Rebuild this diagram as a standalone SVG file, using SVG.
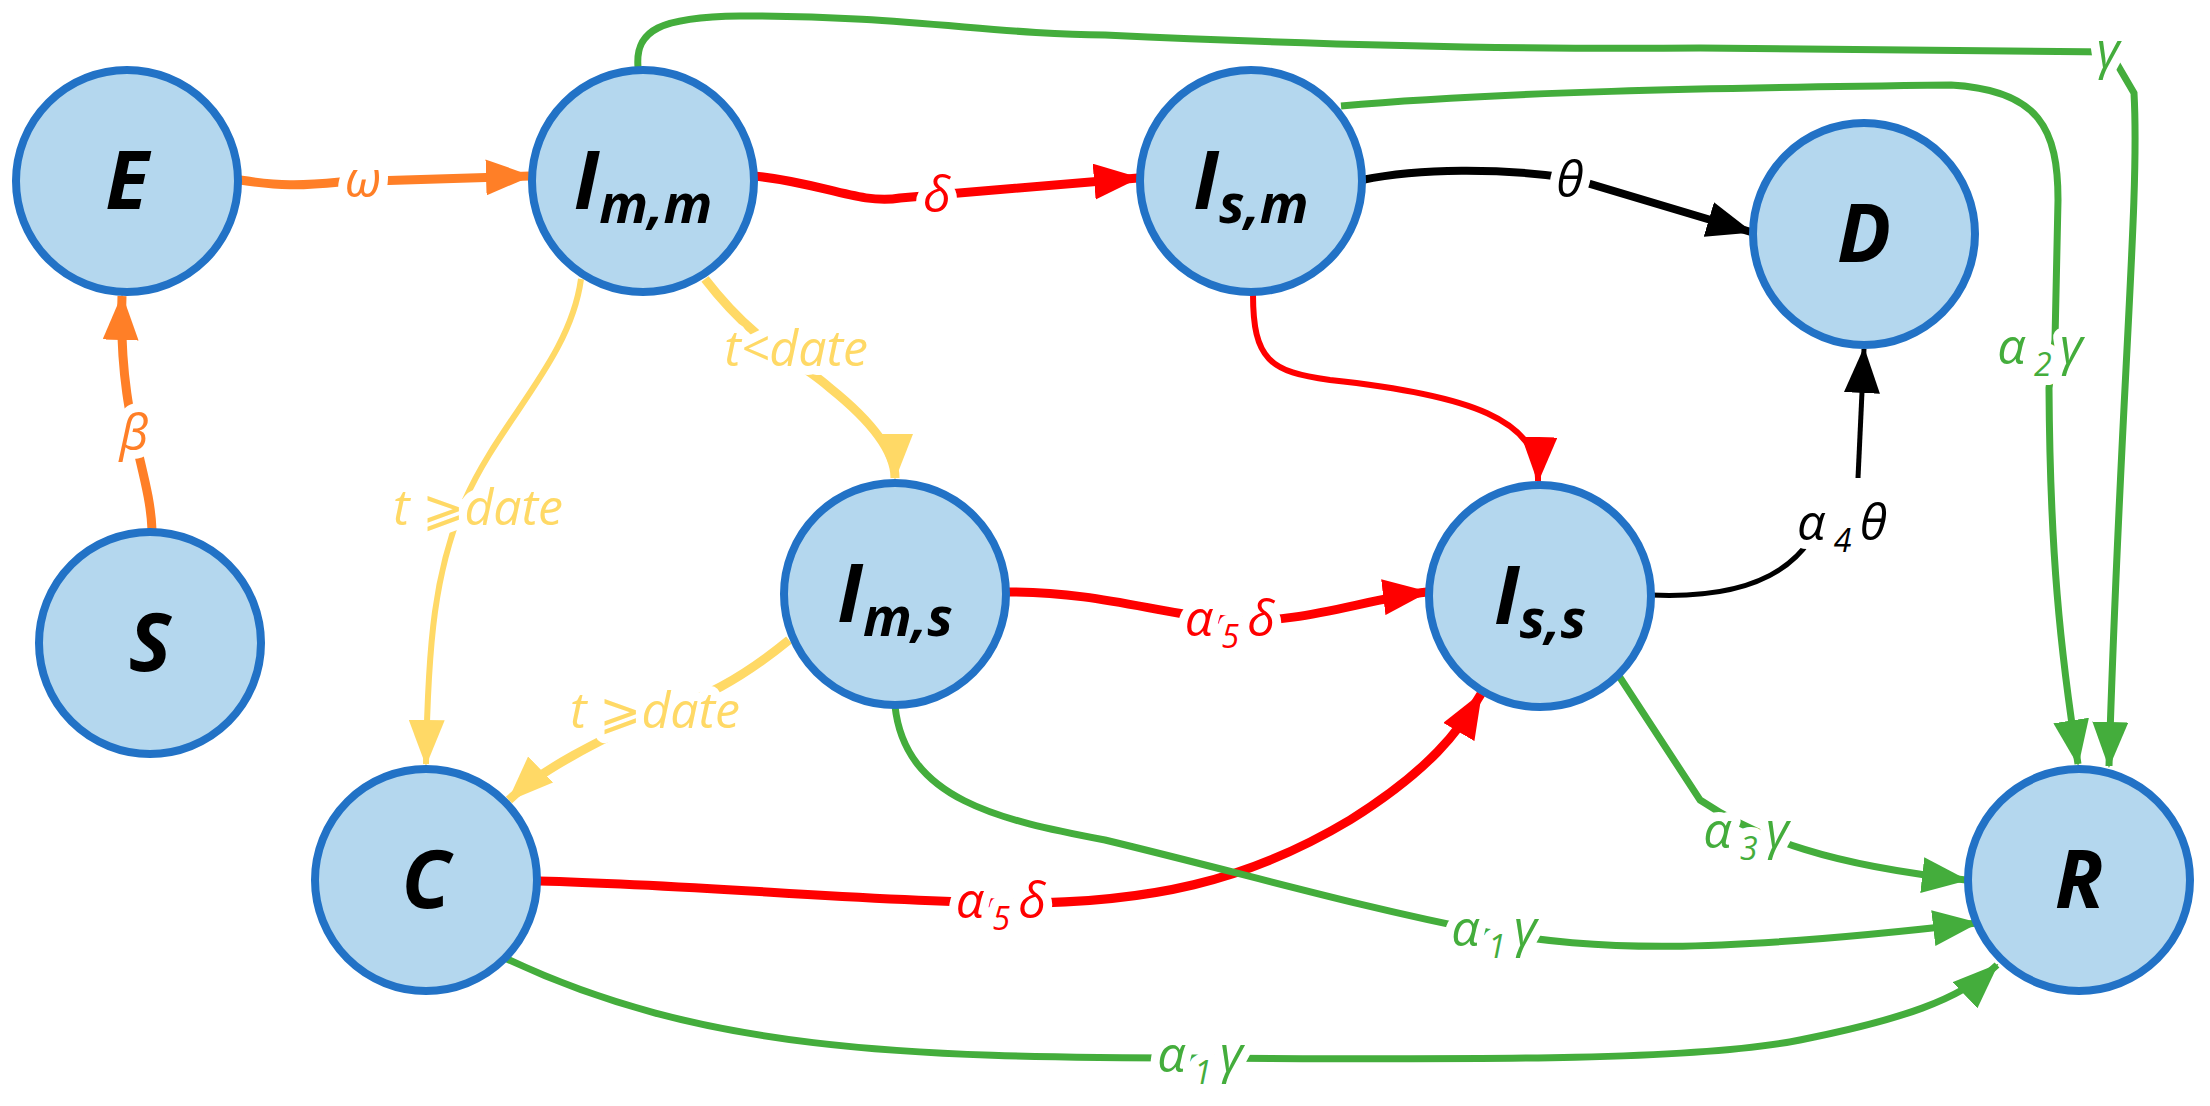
<svg xmlns="http://www.w3.org/2000/svg" width="2210" height="1106" viewBox="0 0 2210 1106">
<style>
.n{fill:#B4D7EE;stroke:#2272C6;stroke-width:8}
.nt{font-family:"Open Sans","Liberation Sans",sans-serif;font-style:italic;font-weight:bold;font-size:80px;fill:#000;text-anchor:middle}
.sub{font-size:54px}
.c{fill:none;stroke-linecap:butt}
.or{stroke:#FF7F27;stroke-width:9}
.rd{stroke:#FF0000;stroke-width:9}
.rdt{stroke:#FF0000;stroke-width:6}
.ye{stroke:#FFD966;stroke-width:6}
.yet{stroke:#FFD966;stroke-width:9}
.gr{stroke:#44AD3C;stroke-width:7}
.bk{stroke:#000;stroke-width:8}
.bkt{stroke:#000;stroke-width:5}
.l{font-family:"Open Sans","DejaVu Sans",sans-serif;font-style:italic;font-size:50px;text-anchor:middle;stroke:#fff;stroke-width:18;paint-order:stroke;stroke-linejoin:round}
.ls{font-size:32px}
</style>
<defs>
<marker id="ao" markerUnits="userSpaceOnUse" markerWidth="46" markerHeight="36" refX="44" refY="18" orient="auto"><path d="M0,0 L46,18 L0,36z" fill="#FF7F27"/></marker>
<marker id="ar" markerUnits="userSpaceOnUse" markerWidth="46" markerHeight="36" refX="44" refY="18" orient="auto"><path d="M0,0 L46,18 L0,36z" fill="#FF0000"/></marker>
<marker id="ay" markerUnits="userSpaceOnUse" markerWidth="46" markerHeight="36" refX="44" refY="18" orient="auto"><path d="M0,0 L46,18 L0,36z" fill="#FFD966"/></marker>
<marker id="ag" markerUnits="userSpaceOnUse" markerWidth="46" markerHeight="36" refX="44" refY="18" orient="auto"><path d="M0,0 L46,18 L0,36z" fill="#44AD3C"/></marker>
<marker id="ak" markerUnits="userSpaceOnUse" markerWidth="46" markerHeight="36" refX="44" refY="18" orient="auto"><path d="M0,0 L46,18 L0,36z" fill="#000"/></marker>
</defs>
<g id="connectors">
<path class="c or" d="M152,530 C150,470 118,420 122,296" marker-end="url(#ao)"/>
<path class="c or" d="M240,180 C280,186 300,186 340,182 L530,176" marker-end="url(#ao)"/>
<path class="c rd" d="M754,176 C820,182 860,205 900,198 L1138,178" marker-end="url(#ar)"/>
<path class="c bk" d="M1362,180 C1420,168 1500,168 1570,178 L1751,232" marker-end="url(#ak)"/>
<path class="c rdt" d="M1253,294 C1253,360 1270,372 1330,380 C1470,395 1540,420 1538,481" marker-end="url(#ar)"/>
<path class="c bkt" d="M1651,595 C1720,598 1780,585 1810,540"/>
<path class="c bkt" d="M1858,478 L1864,349" marker-end="url(#ak)"/>
<path class="c yet" d="M705,279 C760,350 800,360 830,388 C870,420 895,450 895,478" marker-end="url(#ay)"/>
<path class="c ye" d="M581,279 C570,360 500,420 465,500 C435,570 428,640 426,764" marker-end="url(#ay)"/>
<path class="c yet" d="M789,640 C740,680 700,700 660,712 C600,740 540,770 509,800" marker-end="url(#ay)"/>
<path class="c rd" d="M1006,592 C1100,592 1150,612 1226,620 C1300,625 1360,600 1427,592" marker-end="url(#ar)"/>
<path class="c rd" d="M539,881 C700,885 850,900 1000,903 C1150,905 1250,880 1350,820 C1430,770 1460,730 1481,694" marker-end="url(#ar)"/>
<path class="c gr" d="M895,706 C905,800 1000,820 1105,840 C1250,875 1350,905 1487,932 C1600,950 1700,955 1977,923" marker-end="url(#ag)"/>
<path class="c gr" d="M1619,676 L1700,800 C1760,840 1830,865 1966,880" marker-end="url(#ag)"/>
<path class="c gr" d="M507,959 C700,1050 900,1058 1200,1058 C1500,1060 1700,1060 1800,1040 C1900,1020 1960,1000 1997,965" marker-end="url(#ag)"/>
<path class="c gr" d="M638,67 C635,30 660,17 740,16 C900,15 1000,35 1105,35 C1300,44 1500,50 1700,48 L2110,52 L2134,93 C2140,200 2120,400 2109,766" marker-end="url(#ag)"/>
<path class="c gr" d="M1341,106 C1500,92 1700,88 1951,85 C2040,90 2058,130 2058,200 L2055,340 L2049,388 C2050,550 2060,650 2078,764" marker-end="url(#ag)"/>
</g>
<g id="edge-labels">
<text class="l" x="134" y="450" fill="#FF7F27">β</text>
<text class="l" x="363" y="197" fill="#FF7F27">ω</text>
<text class="l" x="937" y="212" fill="#FF0000">δ</text>
<text class="l" x="1570" y="197" fill="#000">θ</text>
<text class="l" x="1842" y="540" fill="#000">α<tspan class="ls" dy="12"> 4 </tspan><tspan dy="-12">θ</tspan></text>
<text class="l" x="796" y="366" fill="#FFD966">t&lt;date</text>
<text class="l" x="478" y="525" fill="#FFD966">t ⩾date</text>
<text class="l" x="655" y="728" fill="#FFD966">t ⩾date</text>
<text class="l" x="1230" y="636" fill="#FF0000">α<tspan class="ls" dy="12"> 5 </tspan><tspan dy="-12">δ</tspan></text>
<text class="l" x="1001" y="918" fill="#FF0000">α<tspan class="ls" dy="12"> 5 </tspan><tspan dy="-12">δ</tspan></text>
<text class="l" x="1494" y="946" fill="#44AD3C">α<tspan class="ls" dy="12"> 1 </tspan><tspan dy="-12">γ</tspan></text>
<text class="l" x="1746" y="848" fill="#44AD3C">α<tspan class="ls" dy="12"> 3 </tspan><tspan dy="-12">γ</tspan></text>
<text class="l" x="1200" y="1072" fill="#44AD3C">α<tspan class="ls" dy="12"> 1 </tspan><tspan dy="-12">γ</tspan></text>
<text class="l" x="2108" y="68" fill="#44AD3C">γ</text>
<text class="l" x="2040" y="364" fill="#44AD3C">α<tspan class="ls" dy="12"> 2 </tspan><tspan dy="-12">γ</tspan></text>
</g>
<g id="E"><circle class="n" cx="127" cy="181" r="111"/><text class="nt" x="127" y="209">E</text></g>
<g id="Imm"><circle class="n" cx="643" cy="181" r="111"/><text class="nt" x="643" y="209">I<tspan class="sub" dy="14">m,m</tspan></text></g>
<g id="Ism"><circle class="n" cx="1251" cy="181" r="111"/><text class="nt" x="1251" y="209">I<tspan class="sub" dy="14">s,m</tspan></text></g>
<g id="D"><circle class="n" cx="1864" cy="234" r="111"/><text class="nt" x="1864" y="262">D</text></g>
<g id="S"><circle class="n" cx="150" cy="643" r="111"/><text class="nt" x="150" y="671">S</text></g>
<g id="Ims"><circle class="n" cx="895" cy="594" r="111"/><text class="nt" x="895" y="622">I<tspan class="sub" dy="14">m,s</tspan></text></g>
<g id="Iss"><circle class="n" cx="1540" cy="596" r="111"/><text class="nt" x="1540" y="624">I<tspan class="sub" dy="14">s,s</tspan></text></g>
<g id="C"><circle class="n" cx="426" cy="880" r="111"/><text class="nt" x="426" y="908">C</text></g>
<g id="R"><circle class="n" cx="2079" cy="880" r="111"/><text class="nt" x="2079" y="908">R</text></g>
</svg>
